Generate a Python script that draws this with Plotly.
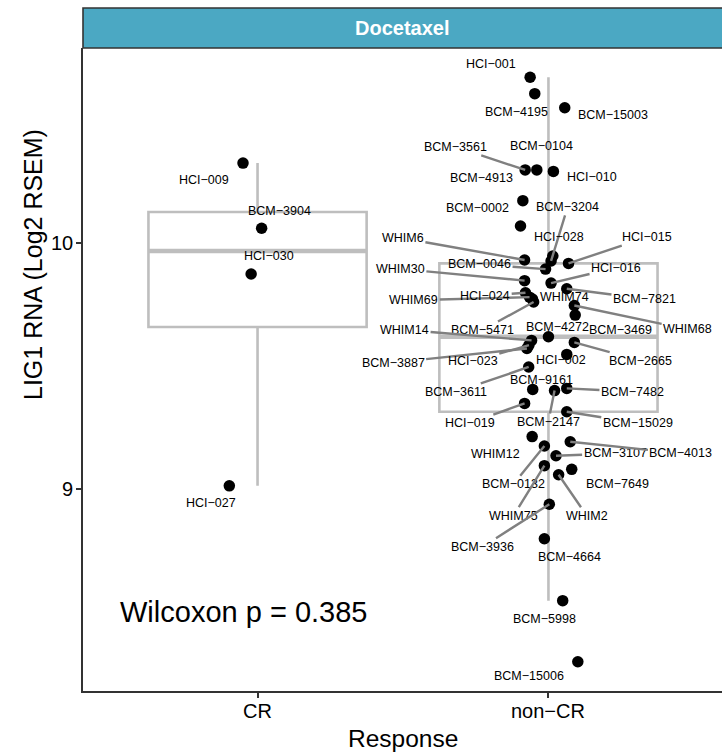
import numpy as np
import plotly.graph_objects as go

# ---- data -------------------------------------------------------------
category_labels = ["CR", "non\u2212CR"]
y_tick_values = [9, 10]

cr_samples = ["HCI-009", "BCM-3904", "HCI-030", "HCI-027"]
cr_values = [10.325, 10.060, 9.874, 9.013]
cr_jitter = [-0.050, 0.014, -0.022, -0.097]

noncr_samples = [
    "HCI-001", "BCM-4195", "BCM-15003", "BCM-3561", "BCM-0104", "BCM-4913",
    "HCI-010", "BCM-0002", "BCM-3204", "HCI-028", "HCI-015", "WHIM6",
    "BCM-0046", "HCI-016", "WHIM30", "WHIM69", "HCI-024", "WHIM74",
    "BCM-7821", "WHIM68", "BCM-5471", "WHIM14", "BCM-4272", "BCM-3469",
    "BCM-3887", "HCI-023", "HCI-002", "BCM-2665", "BCM-3611", "BCM-9161",
    "BCM-7482", "HCI-019", "BCM-2147", "BCM-15029", "WHIM12", "BCM-3107",
    "BCM-4013", "BCM-0132", "BCM-7649", "WHIM75", "WHIM2", "BCM-3936",
    "BCM-4664", "BCM-5998", "BCM-15006",
]
noncr_values = [
    10.674, 10.607, 10.550, 10.297, 10.297, 10.172,
    10.291, 10.069, 9.927, 9.947, 9.917, 9.931,
    9.894, 9.837, 9.847, 9.780, 9.798, 9.772,
    9.814, 9.746, 9.760, 9.604, 9.619, 9.707,
    9.571, 9.585, 9.547, 9.596, 9.496, 9.405,
    9.409, 9.348, 9.400, 9.314, 9.213, 9.135,
    9.192, 9.175, 9.080, 9.095, 9.058, 8.938,
    8.798, 8.546, 8.298,
]
noncr_jitter = [
    -0.063, -0.047, 0.056, -0.080, -0.040, -0.088,
    0.017, -0.096, 0.009, 0.015, 0.069, -0.082,
    -0.010, 0.009, -0.082, -0.065, -0.079, -0.055,
    0.063, 0.089, -0.051, -0.058, 0.000, 0.092,
    -0.074, -0.067, 0.063, 0.089, -0.068, -0.054,
    0.063, -0.082, 0.021, 0.063, -0.056, 0.026,
    0.075, -0.014, 0.080, -0.014, 0.035, 0.003,
    -0.014, 0.049, 0.101,
]
p_value_text = "Wilcoxon p = 0.385"
facet_title = "Docetaxel"

# ---- repelled label placement (pixel offsets from each point) --------
cr_label_offsets = [(-38.7, 17.0, False), (17.8, -17.3, False),
                    (18.0, -18.0, False), (-18.3, 17.6, False)]
noncr_label_offsets = [
    (-38.7, -13.5, False), (-18.3, 18.8, False), (48.7, 6.8, False),
    (-69.7, -23.0, True), (5.0, -24.3, False), (-41.6, -22.4, False),
    (38.7, 5.4, False), (-43.3, -18.0, False), (16.6, -54.0, True),
    (6.4, -19.0, False), (78.7, -26.3, True), (-121.7, -21.7, True),
    (-66.0, -4.7, True), (65.0, -15.3, True), (-124.2, -11.7, True),
    (-115.8, 3.0, True), (-40.3, 3.0, True), (31.7, -2.3, False),
    (77.7, 10.0, True), (113.3, 23.8, True), (-51.2, 28.0, True),
    (-127.0, -10.5, True), (9.3, -10.0, False), (44.8, 15.0, False),
    (-133.8, 14.0, True), (-56.2, 16.3, True), (-5.3, 5.5, False),
    (66.3, 18.2, True), (-72.6, 25.0, True), (9.0, -9.3, False),
    (65.7, 3.2, True), (-55.0, 19.7, True), (-6.3, 31.3, True),
    (71.0, 11.3, True), (-36.5, 17.3, False), (59.1, -2.4, True),
    (110.7, 11.6, True), (-31.0, 38.3, True), (46.0, 15.1, False),
    (-30.8, 50.0, True), (28.2, 41.0, True), (-66.7, 42.4, True),
    (25.0, 18.6, False), (-18.3, 18.3, False), (-48.8, 14.0, False),
]

FONT = "Liberation Sans, Arial, Helvetica, sans-serif"
BOX_GREY = "#BEBEBE"
SEG_GREY = "#808080"
AXIS_COL = "#333333"
PLOT_H = 643  # plot-area height in px (754 - 48 - 63)


def box_stats(vals):
    v = np.asarray(vals, dtype=float)
    q1, med, q3 = np.percentile(v, [25, 50, 75])
    iqr = q3 - q1
    lo = v[v >= q1 - 1.5 * iqr].min()
    hi = v[v <= q3 + 1.5 * iqr].max()
    return q1, med, q3, lo, hi


groups = [
    (1, cr_samples, cr_values, cr_jitter, cr_label_offsets),
    (2, noncr_samples, noncr_values, noncr_jitter, noncr_label_offsets),
]

fig = go.Figure()

# boxplots (R type-7 quantiles, Tukey whiskers, outliers hidden)
stats = [box_stats(g[2]) for g in groups]
fig.add_trace(go.Box(
    x=[g[0] for g in groups],
    q1=[s[0] for s in stats], median=[s[1] for s in stats],
    q3=[s[2] for s in stats], lowerfence=[s[3] for s in stats],
    upperfence=[s[4] for s in stats],
    width=0.75, whiskerwidth=0, boxpoints=False,
    line=dict(color=BOX_GREY, width=2.6),
    fillcolor="rgba(255,255,255,0)", hoverinfo="skip", showlegend=False,
))
# thicker median bars
for (pos, *_), s in zip(groups, stats):
    fig.add_trace(go.Scatter(
        x=[pos - 0.375, pos + 0.375], y=[s[1], s[1]], mode="lines",
        line=dict(color=BOX_GREY, width=4.5), hoverinfo="skip",
        showlegend=False,
    ))

# jittered points
for pos, names, vals, jit, _ in groups:
    fig.add_trace(go.Scatter(
        x=[pos + j for j in jit], y=vals, mode="markers",
        marker=dict(color="black", size=11.5, line=dict(width=0)),
        hoverinfo="skip", showlegend=False,
    ))

annotations = []
for pos, names, vals, jit, offs in groups:
    for name, v, j, (dx, dy, seg) in zip(names, vals, jit, offs):
        text = name.replace("-", "\u2212")
        common = dict(x=pos + j, y=v, xref="x", yref="y", text=text,
                      font=dict(family=FONT, size=12.5, color="black"),
                      xanchor="center", yanchor="middle")
        if seg:
            annotations.append(dict(
                **common, showarrow=True, ax=dx, ay=dy, arrowhead=0,
                arrowwidth=2.4, arrowcolor=SEG_GREY, standoff=0,
            ))
        else:
            annotations.append(dict(
                **common, showarrow=False, xshift=dx, yshift=-dy,
            ))

# tick labels, set close to the axis lines
for val in y_tick_values:
    annotations.append(dict(
        x=0, y=val, xref="paper", yref="y", text=str(val), showarrow=False,
        xanchor="right", yanchor="middle", xshift=-8,
        font=dict(family=FONT, size=20, color="black"),
    ))
for pos, lab in zip([1, 2], category_labels):
    annotations.append(dict(
        x=pos, y=-20 / PLOT_H, xref="x", yref="paper", text=lab,
        showarrow=False, xanchor="center", yanchor="middle",
        font=dict(family=FONT, size=20, color="black"),
    ))

# p-value
annotations.append(dict(
    x=0.52, y=8.5, xref="x", yref="y", text=p_value_text, showarrow=False,
    xanchor="left", yanchor="middle",
    font=dict(family=FONT, size=29, color="black"),
))
# facet strip title
annotations.append(dict(
    x=0.5, y=1 + 20 / PLOT_H, xref="paper", yref="paper",
    text=f"<b>{facet_title}</b>", showarrow=False,
    xanchor="center", yanchor="middle",
    font=dict(family=FONT, size=20, color="white"),
))
# axis titles
annotations.append(dict(
    x=0.5, y=-47 / PLOT_H, xref="paper", yref="paper", text="Response",
    showarrow=False, xanchor="center", yanchor="middle",
    font=dict(family=FONT, size=24.5, color="black"),
))
annotations.append(dict(
    x=-50 / 639, y=(691 - 265) / PLOT_H, xref="paper", yref="paper",
    text="LIG1 RNA (Log2 RSEM)", textangle=-90, showarrow=False,
    xanchor="center", yanchor="middle",
    font=dict(family=FONT, size=25, color="black"),
))

shapes = [dict(
    type="rect", xref="paper", yref="paper", x0=0, x1=1.02,
    y0=1, y1=1 + 40 / PLOT_H, fillcolor="#4BA8C3",
    line=dict(color=AXIS_COL, width=1.6), layer="above",
)]

fig.update_layout(
    width=722, height=754,
    margin=dict(l=83, r=0, t=48, b=63),
    paper_bgcolor="white", plot_bgcolor="white",
    showlegend=False,
    annotations=annotations, shapes=shapes,
    xaxis=dict(
        range=[0.4, 2.5966], tickvals=[1, 2], showticklabels=False,
        showgrid=False, zeroline=False, showline=True, linecolor=AXIS_COL,
        linewidth=1.6, ticks="outside", ticklen=5, tickwidth=1.6,
        tickcolor=AXIS_COL,
    ),
    yaxis=dict(
        range=[8.1789, 10.7927], tickvals=y_tick_values, showticklabels=False,
        showgrid=False, zeroline=False, showline=True, linecolor=AXIS_COL,
        linewidth=1.6, ticks="outside", ticklen=5, tickwidth=1.6,
        tickcolor=AXIS_COL,
    ),
)

fig.write_html("out.html")
